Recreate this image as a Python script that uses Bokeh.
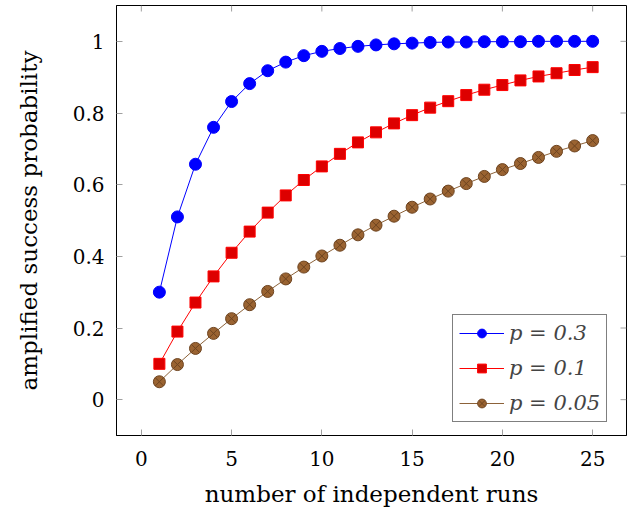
from bokeh.plotting import figure
from bokeh.models import Range1d, Legend, LegendItem, FixedTicker
from bokeh.embed import file_html
from bokeh.resources import INLINE

runs = list(range(1, 26))
p03 = [0.300, 0.510, 0.657, 0.760, 0.832, 0.882, 0.918, 0.942, 0.960, 0.972,
       0.980, 0.986, 0.990, 0.993, 0.995, 0.997, 0.998, 0.998, 0.999, 0.999,
       0.999, 1.000, 1.000, 1.000, 1.000]
p01 = [0.100, 0.190, 0.271, 0.344, 0.410, 0.469, 0.522, 0.570, 0.613, 0.651,
       0.686, 0.718, 0.746, 0.771, 0.794, 0.815, 0.833, 0.850, 0.865, 0.878,
       0.891, 0.902, 0.911, 0.920, 0.928]
p005 = [0.050, 0.098, 0.143, 0.185, 0.226, 0.265, 0.302, 0.337, 0.370, 0.401,
        0.431, 0.460, 0.487, 0.512, 0.537, 0.560, 0.582, 0.603, 0.623, 0.642,
        0.659, 0.676, 0.693, 0.708, 0.723]
labels = ["p = 0.3", "p = 0.1", "p = 0.05"]
xticks = [0, 5, 10, 15, 20, 25]
yticks = [0, 0.2, 0.4, 0.6, 0.8, 1.0]

FONT = "DejaVu Serif"
X0, X1, Y0, Y1 = -1.375, 26.875, -0.1, 1.1
FW, FH = 510, 430  # frame size in px

p = figure(width=627, height=512, output_backend="svg", toolbar_location=None,
           x_range=Range1d(X0, X1), y_range=Range1d(Y0, Y1),
           min_border_left=116, min_border_right=1, min_border_top=5,
           min_border_bottom=77)
p.background_fill_color = "white"
p.border_fill_color = "white"
p.outline_line_color = "black"
p.outline_line_width = 1
p.grid.visible = False

for ax in (p.xaxis[0], p.yaxis[0]):
    ax.axis_line_color = "black"
    ax.major_tick_in = 6
    ax.major_tick_out = 0
    ax.minor_tick_line_color = None
    ax.major_tick_line_color = "#a0a0a0"
    ax.major_label_text_font = FONT
    ax.major_label_text_font_size = "20px"
    ax.major_label_text_color = "black"
    ax.axis_label_text_font = FONT
    ax.axis_label_text_font_size = "23px"
    ax.axis_label_text_font_style = "normal"
    ax.axis_label_text_color = "black"

p.xaxis[0].ticker = FixedTicker(ticks=xticks)
p.yaxis[0].ticker = FixedTicker(ticks=yticks)
p.xaxis[0].major_label_overrides = {0: "0", 5: "5", 10: "10", 15: "15", 20: "20", 25: "25"}
p.yaxis[0].major_label_overrides = {0: "0", 0.2: "0.2", 0.4: "0.4", 0.6: "0.6", 0.8: "0.8", 1.0: "1"}
p.xaxis[0].axis_label = "number of independent runs"
p.yaxis[0].axis_label = "amplified success probability"
p.xaxis[0].major_label_standoff = 15
p.yaxis[0].major_label_standoff = 12
p.xaxis[0].axis_label_standoff = 12
p.yaxis[0].axis_label_standoff = 28

# mirrored inward ticks on the top and right edges
tick_dy = 6 * (Y1 - Y0) / FH
tick_dx = 6 * (X1 - X0) / FW
p.segment(x0=xticks, y0=[Y1] * len(xticks), x1=xticks, y1=[Y1 - tick_dy] * len(xticks),
          line_color="#a0a0a0", line_width=1)
p.segment(x0=[X1] * len(yticks), y0=yticks, x1=[X1 - tick_dx] * len(yticks), y1=yticks,
          line_color="#a0a0a0", line_width=1)

l1 = p.line(runs, p03, line_color="blue", line_width=1)
m1 = p.scatter(runs, p03, marker="circle", size=12, fill_color="blue", line_color="blue")
l2 = p.line(runs, p01, line_color="red", line_width=1)
m2 = p.scatter(runs, p01, marker="square", size=11, fill_color="#dd0000", line_color="red")
l3 = p.line(runs, p005, line_color="#8c6239", line_width=1)
m3 = p.scatter(runs, p005, marker="circle_x", size=12, fill_color="#9a6331", line_color="#6e4420")

legend = Legend(items=[LegendItem(label=labels[0], renderers=[l1, m1]),
                       LegendItem(label=labels[1], renderers=[l2, m2]),
                       LegendItem(label=labels[2], renderers=[l3, m3])],
                location=(336, 13), margin=0,
                border_line_color="black", border_line_width=1,
                label_text_font=FONT, label_text_font_size="21px",
                label_text_font_style="italic",
                glyph_width=45, glyph_height=22, spacing=11,
                padding=6, label_standoff=5, background_fill_alpha=1)
p.add_layout(legend, "center")

open("out.html", "w").write(file_html(p, INLINE))
